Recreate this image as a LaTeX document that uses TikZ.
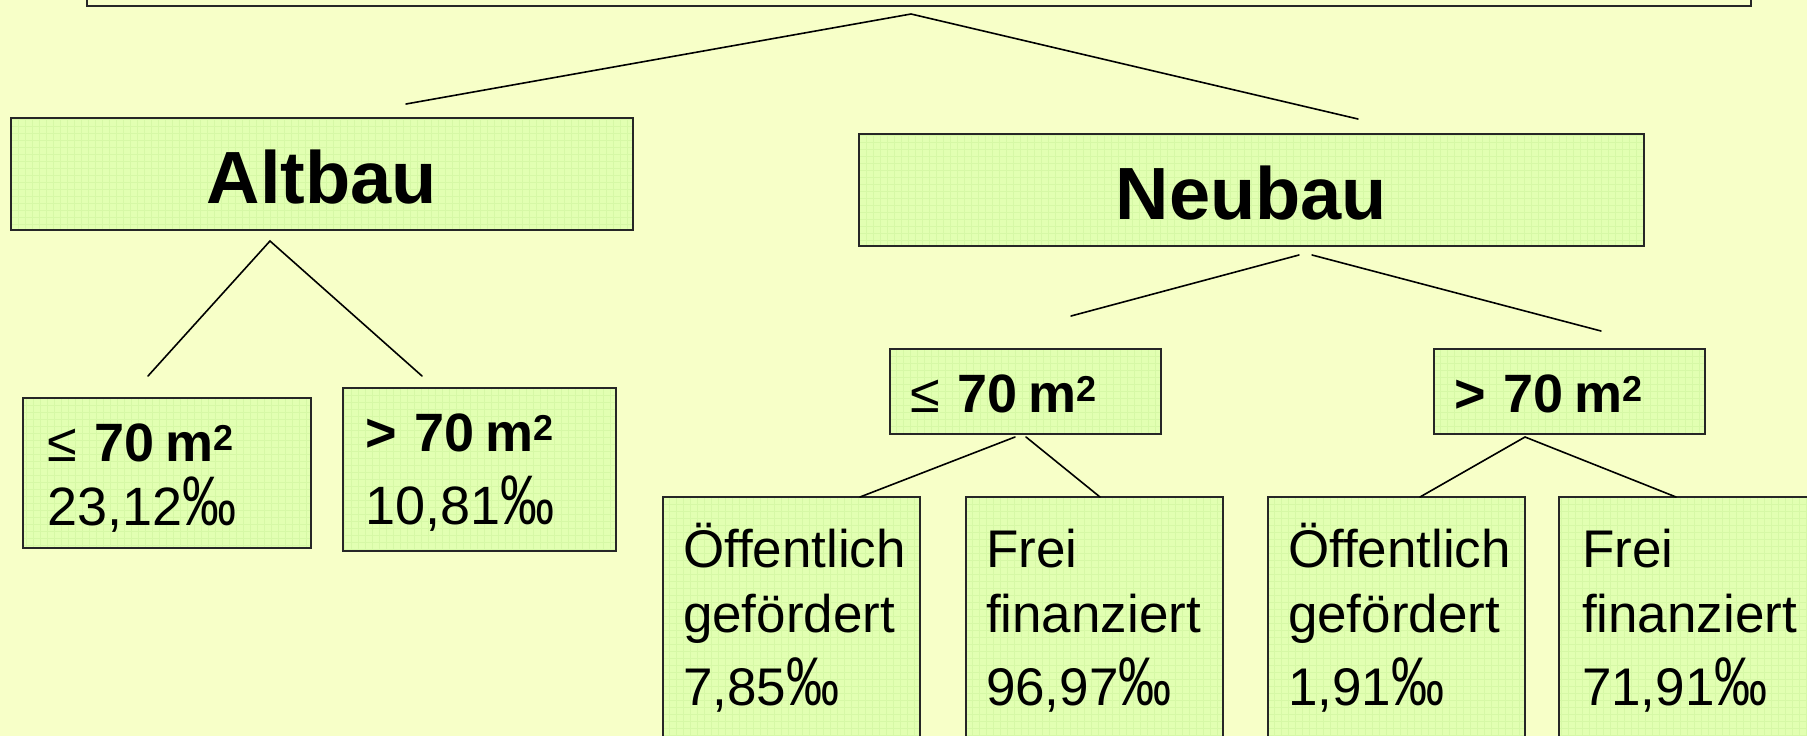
\documentclass[tikz,border=0pt]{standalone}
\usepackage{fontspec}
\setmainfont{Liberation Sans}
\usepackage{graphicx}
\usepackage{tikz}
\hyphenpenalty=10000
\definecolor{paper}{RGB}{247,255,200}
\definecolor{boxgreen}{RGB}{226,255,178}
\definecolor{gridgreen}{RGB}{214,248,166}
\tikzset{box/.style={rectangle, draw=black!85, line width=1.8pt, fill=boxgreen,
    anchor=north west, inner ysep=0pt, outer sep=0pt, align=left,
    path picture={\draw[gridgreen, line width=0.5pt, step=7pt]
      (path picture bounding box.south west) grid (path picture bounding box.north east);}}}
\tikzset{title/.style={box, align=center, inner xsep=0pt, font=\fontsize{74}{74}\selectfont\bfseries}}
\tikzset{cell/.style={box, font=\fontsize{54}{64}\selectfont}}
\tikzset{leaf/.style={box, text width=217pt, inner xsep=20pt, font=\fontsize{53}{65}\selectfont}}
\tikzset{link/.style={line width=1.6pt, black, line cap=round}}
\newcommand{\sqm}{\hspace{11pt}m\kern-0.5pt\raisebox{11pt}{\fontsize{36}{36}\selectfont 2}}
\newcommand{\lesym}{{\mdseries ≤}}
\newcommand{\pmil}{\scalebox{1}[1.3]{‰}}

\begin{document}
\begin{tikzpicture}[x=1pt, y=-1pt]
  \useasboundingbox (0,0) rectangle (1807,736);
  \clip (0,0) rectangle (1807,736);
  \fill[paper] (0,0) rectangle (1807,736);
  \node[rectangle, draw=black!85, line width=1.8pt, fill=paper, anchor=south west,
    minimum width=1664pt, minimum height=40pt, outer sep=0pt] (root) at (87,6) {};

  \node[title, text width=622pt] (altbau) at (11,118) {\rule{0pt}{85pt}Altbau\rule[-27pt]{0pt}{0pt}};
  \node[title, text width=785pt] (neubau) at (859,134) {\rule{0pt}{85pt}Neubau\rule[-27pt]{0pt}{0pt}};

  \node[cell, text width=240pt, inner xsep=24pt] (alt-le) at (23,398)
    {\rule{0pt}{63pt}\textbf{\lesym\ 70\sqm}\\23,12\pmil\rule[-23pt]{0pt}{0pt}};
  \node[cell, text width=229pt, inner xsep=22pt] (alt-gt) at (343,388)
    {\rule{0pt}{63pt}\textbf{> 70\sqm}\\[9pt]10,81\pmil\rule[-27pt]{0pt}{0pt}};
  \node[cell, text width=231pt, inner xsep=20pt] (neu-le) at (890,349)
    {\rule{0pt}{63pt}\textbf{\lesym\ 70\sqm}\rule[-22pt]{0pt}{0pt}};
  \node[cell, text width=231pt, inner xsep=20pt] (neu-gt) at (1434,349)
    {\rule{0pt}{63pt}\textbf{> 70\sqm}\rule[-22pt]{0pt}{0pt}};

  \node[leaf] (le-oeff) at (663,497) {\rule{0pt}{70pt}Öffentlich\\gefördert\\[8pt]7,85\pmil\rule[-75pt]{0pt}{0pt}};
  \node[leaf] (le-frei) at (966,497) {\rule{0pt}{70pt}Frei\\finanziert\\[8pt]96,97\pmil\rule[-75pt]{0pt}{0pt}};
  \node[leaf] (gt-oeff) at (1268,497) {\rule{0pt}{70pt}Öffentlich\\gefördert\\[8pt]1,91\pmil\rule[-75pt]{0pt}{0pt}};
  \node[leaf, text width=211pt, inner xsep=23pt] (gt-frei) at (1559,497) {\rule{0pt}{70pt}Frei\\finanziert\\[8pt]71,91\pmil\rule[-75pt]{0pt}{0pt}};

  \coordinate (root-out) at (911,14);
  \coordinate (altbau-in) at (406,104);
  \coordinate (neubau-in) at (1358,119);
  \draw[link] (altbau-in) -- (root-out) -- (neubau-in);

  \coordinate (altbau-out) at (270,241);
  \coordinate (alt-le-in) at (148,376);
  \coordinate (alt-gt-in) at (422,376);
  \draw[link] (alt-le-in) -- (altbau-out) -- (alt-gt-in);

  \coordinate (neubau-out-l) at (1299,255);
  \coordinate (neubau-out-r) at (1312,255);
  \coordinate (neu-le-in) at (1071,316);
  \coordinate (neu-gt-in) at (1601,331);
  \draw[link] (neubau-out-l) -- (neu-le-in);
  \draw[link] (neubau-out-r) -- (neu-gt-in);

  \coordinate (neu-le-out-l) at (1015,437);
  \coordinate (neu-le-out-r) at (1026,437);
  \draw[link] (neu-le-out-l) -- (le-oeff.north west -| 860,0);
  \draw[link] (neu-le-out-r) -- (le-frei.north west -| 1100,0);

  \coordinate (neu-gt-out) at (1525,437);
  \draw[link] (gt-oeff.north west -| 1420,0) -- (neu-gt-out) -- (gt-frei.north west -| 1676,0);
\end{tikzpicture}
\end{document}
